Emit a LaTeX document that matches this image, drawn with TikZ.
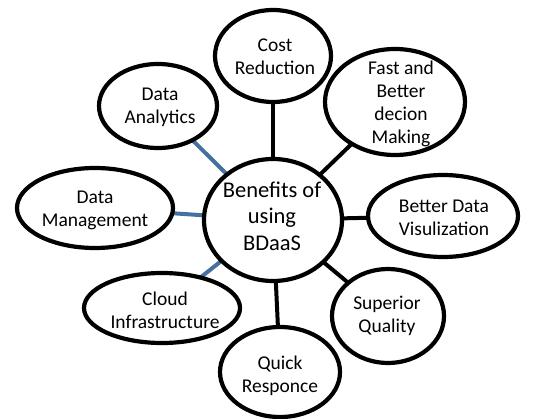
\documentclass[tikz,border=0pt]{standalone}
\usepackage{fontspec}
\setmainfont{Carlito}
\usetikzlibrary{shapes.geometric}
\definecolor{linkblue}{RGB}{70,112,160}
\begin{document}
\begin{tikzpicture}[x=1pt,y=-1pt,
  bubble/.style={draw=black,line width=4.2pt,fill=white,ellipse,inner sep=0pt},
  txt/.style={align=center,font=\fontsize{19.5}{23}\selectfont,inner sep=0pt},
  hubtxt/.style={align=center,font=\fontsize{22.5}{26.5}\selectfont,inner sep=0pt},
  blk/.style={draw=black,line width=4pt},
  blu/.style={draw=linkblue,line width=4pt}]
\useasboundingbox (0,0) rectangle (553,419);
% connectors first (behind the bubbles)
\coordinate (pcost) at (273,56);
\coordinate (pda) at (158,106);
\coordinate (pfast) at (395,102);
\coordinate (phub) at (273,220);
\coordinate (pdm) at (95,208);
\coordinate (pbdv) at (443,216);
\coordinate (pcloud) at (162,308);
\coordinate (pquick) at (280,372);
\coordinate (psup) at (388,316);
\draw[blk] (phub) -- (pcost);
\draw[blk] (phub) -- (pfast);
\draw[blk] (phub) -- (pbdv);
\draw[blk] (phub) -- (psup);
\draw[blk] (phub) -- (pquick);
\draw[blu] (phub) -- (pda);
\draw[blu] (phub) -- (pdm);
\draw[blu] (phub) -- (pcloud);
% bubbles
\node[bubble,minimum width=116pt,minimum height=92pt] (cost) at (pcost) {};
\node[bubble,minimum width=118pt,minimum height=84pt] (da) at (pda) {};
\node[bubble,minimum width=140pt,minimum height=106pt] (fast) at (pfast) {};
\node[bubble,minimum width=156pt,minimum height=80pt] (dm) at (pdm) {};
\node[bubble,minimum width=150pt,minimum height=82pt] (bdv) at (pbdv) {};
\node[bubble,minimum width=156pt,minimum height=70pt] (cloud) at (pcloud) {};
\node[bubble,minimum width=120pt,minimum height=90pt] (quick) at (pquick) {};
\node[bubble,minimum width=112pt,minimum height=94pt] (sup) at (psup) {};
\node[bubble,minimum width=138pt,minimum height=122pt] (hub) at (phub) {};
% texts
\node[txt] (tcost) at (275,57) {Cost\\Reduction};
\node[txt] (tda) at (160,107) {Data\\Analytics};
\node[txt] (tfast) at (401,104) {Fast and\\Better\\decion\\Making};
\node[txt] (tdm) at (95,210) {Data\\Management};
\node[txt] (tbdv) at (444,218) {Better Data\\Visulization};
\node[txt] (tcloud) at (165,310) {Cloud\\Infrastructure};
\node[txt] (tquick) at (280,376) {Quick\\Responce};
\node[txt] (tsup) at (387,316) {Superior\\Quality};
\node[hubtxt] (thub) at (272,216) {Benefits of\\using\\BDaaS};
\end{tikzpicture}
\end{document}
